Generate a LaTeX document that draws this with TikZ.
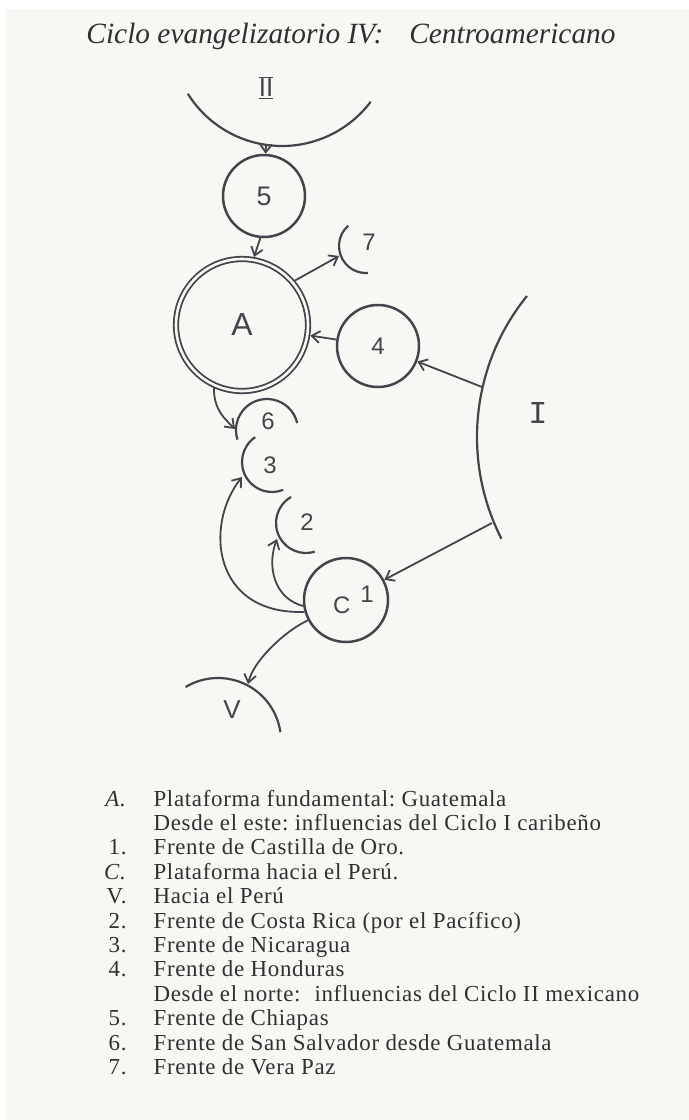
\documentclass[tikz,border=0pt]{standalone}
\usepackage{fontspec}
\setmainfont{Liberation Serif}
\newfontfamily\handfont{Liberation Sans}
\newfontfamily\romfont{Liberation Mono}
\usepackage{tikz}
\usetikzlibrary{arrows.meta}
\definecolor{gray1}{HTML}{44444C}
\definecolor{gray2}{HTML}{303032}
\definecolor{cream1}{HTML}{F8F7F3}
\tikzset{
  front/.style={circle, draw=gray1, line width=2.5bp, inner sep=0pt, minimum size=82bp,
    text=gray1, font=\handfont\fontsize{24}{24}\selectfont},
  rim/.style={draw=gray1, line width=2.2bp},
  arr/.style={draw=gray1, line width=1.8bp, -{Straight Barb[length=8bp,width=12bp]}},
  tag/.style={text=gray1, inner sep=0pt, font=\handfont\fontsize{24}{24}\selectfont},
}
\frenchspacing

\begin{document}
\begin{tikzpicture}[x=1bp, y=-1bp]
\useasboundingbox (0,0) rectangle (689,1120);
\fill[white] (0,0) rectangle (689,1120);
\fill[cream1] (6,9) rectangle (689,1120);

\node[anchor=base, text=gray2, font=\itshape\fontsize{29.5}{29.5}\selectfont] (title) at (351,43)
  {Ciclo evangelizatorio IV:\hspace{26bp}Centroamericano};

\draw[rim] (282,35) ++(148:111) arc[start angle=148, end angle=37, radius=111];
\node[tag] (nII) at (266,88) {$\overline{\underline{\mbox{\handfont\fontsize{26}{26}\selectfont II}}}$};
\draw[rim] (701,437) ++(219:224) arc[start angle=219, end angle=153, radius=224];
\node[tag, font=\romfont\fontsize{32}{32}\selectfont] (nI) at (538,413) {I};

\node[front, font=\handfont\fontsize{27}{27}\selectfont] (n5) at (264,196) {5};
\node[front, minimum size=132bp, line width=1.8bp, double=cream1, double distance=2.6bp,
  outer sep=3.1bp, font=\handfont\fontsize{32}{32}\selectfont] (A) at (242,325) {A};
\node[front] (n4) at (378,346) {4};
\node[front, minimum size=84bp] (C) at (346,600) {\hspace*{15bp}C\hspace{10bp}\raisebox{11bp}{1}};

\draw[rim] (366,246) ++(229:27) arc[start angle=229, end angle=86, radius=27];
\node[tag] (n7) at (369,242) {7};
\draw[rim] (267,430) ++(162:31) arc[start angle=162, end angle=347, radius=31];
\node[tag] (n6) at (268,421) {6};
\draw[rim] (272,462) ++(236:30) arc[start angle=236, end angle=68, radius=30];
\node[tag] (n3) at (270,465) {3};
\draw[rim] (306,523) ++(240:30) arc[start angle=240, end angle=73, radius=30];
\node[tag] (n2) at (307,522) {2};
\draw[rim] (218,741) ++(239:63) arc[start angle=239, end angle=352, radius=63];
\node[tag, font=\handfont\fontsize{26}{26}\selectfont] (nV) at (232,710) {V};

\coordinate (IIout) at (266,144);
\coordinate (Ito4) at (482,387);
\coordinate (ItoC) at (492,523);
\coordinate (in7) at (339,256);
\coordinate (in6) at (235,429);
\coordinate (in3) at (242,477);
\coordinate (in2) at (277,539);
\coordinate (inV) at (248,684);

\draw[arr] (IIout) -- (n5);
\draw[arr] (n5.-95) -- (A.80);
\draw[arr] (A.40) -- (in7);
\draw[arr] (n4) -- (A);
\draw[arr] (Ito4) -- (n4);
\draw[arr] (ItoC) -- (C);
\draw[arr] (A.246) .. controls +(0,22) and +(-10,-10) .. (in6);
\draw[arr] (C.196) .. controls +(-92,3) and +(-38,48) .. (in3);
\draw[arr] (C.188) .. controls +(-30,-8) and +(-10,26) .. (in2);
\draw[arr] (C.208) .. controls +(-25,12) and +(5,-22) .. (inV);

\node[anchor=base west, inner sep=0pt, text=gray2,
  font=\fontsize{23}{24.5}\selectfont\addfontfeatures{LetterSpace=3}] (legend) at (104,806)
  {\begin{tabular}[t]{@{}r@{\hspace{27bp}}l@{}}
  \textit{A.} & Plataforma fundamental: Guatemala\\
   & Desde el este: influencias del Ciclo I caribeño\\
  1. & Frente de Castilla de Oro.\\
  \textit{C.} & Plataforma hacia el Perú.\\
  V. & Hacia el Perú\\
  2. & Frente de Costa Rica (por el Pacífico)\\
  3. & Frente de Nicaragua\\
  4. & Frente de Honduras\\
   & Desde el norte:\hspace{14bp}influencias del Ciclo II mexicano\\
  5. & Frente de Chiapas\\
  6. & Frente de San Salvador desde Guatemala\\
  7. & Frente de Vera Paz
  \end{tabular}};
\end{tikzpicture}
\end{document}
